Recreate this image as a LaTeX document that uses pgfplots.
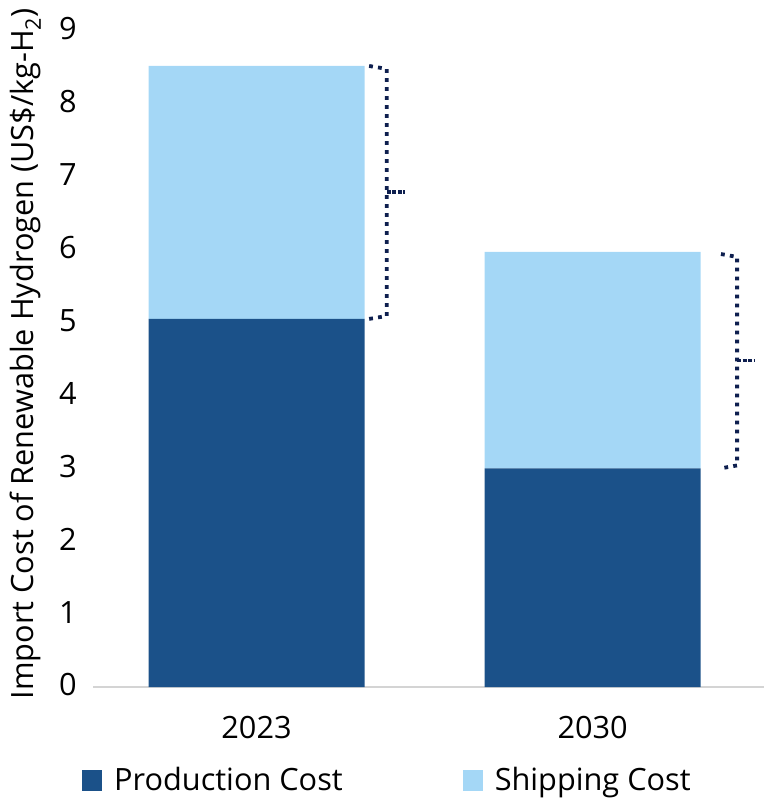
\documentclass[border=0pt]{standalone}
\usepackage{fontspec}
\setmainfont{Open Sans}
\usepackage{pgfplots}
\pgfplotsset{compat=1.18}
\definecolor{prodblue}{HTML}{1B5189}
\definecolor{shipblue}{HTML}{A4D7F6}
\definecolor{navy}{HTML}{0E1F4F}
\definecolor{basegray}{HTML}{D4D4D4}
\begin{document}
\fontsize{30.7}{37}\selectfont
\begin{tikzpicture}
\begin{axis}[
    at={(0pt,0pt)}, anchor=south west,
    scale only axis,
    width=671pt, height=656pt,
    ybar stacked,
    bar width=216pt,
    xmin=-0.4866, xmax=1.51,
    ymin=0, ymax=9,
    xtick={0,1}, xticklabels={2023,2030},
    ytick={0,1,...,9},
    axis lines*=left,
    x axis line style={draw=basegray, line width=1.5pt, -},
    y axis line style={draw=none, -},
    tick style={draw=none},
    major tick length=0pt,
    /pgf/number format/assume math mode=true,
    yticklabel style={xshift=-6pt, yshift=2pt},
    xticklabel style={yshift=-19pt},
    ylabel={Import Cost of Renewable Hydrogen (US\$/kg-H\textsubscript{2})},
    ylabel style={at={(axis description cs:-0.1,0.508)}, anchor=center},
    legend style={at={(axis description cs:-0.0164,-0.1433)}, anchor=west,
        draw=none, fill=none, inner sep=0pt, legend columns=2,
        /tikz/every odd column/.append style={column sep=10pt},
        /tikz/every even column/.append style={column sep=118pt}},
    legend image code/.code={\fill[#1] (0pt,-10pt) rectangle (20pt,11pt);},
]
\addplot[fill=prodblue, draw=none] coordinates {(0,5.05) (1,3.0)};
\addplot[fill=shipblue, draw=none] coordinates {(0,3.47) (1,2.97)};
\legend{Production Cost, Shipping Cost}
\end{axis}
\begin{axis}[
    at={(0pt,0pt)}, anchor=south west,
    scale only axis,
    width=671pt, height=656pt,
    xmin=-0.4866, xmax=1.51,
    ymin=0, ymax=9,
    hide axis,
]
\addplot[navy, line width=3.8pt, dash pattern=on 3.8pt off 5.2pt, line join=round] coordinates {
(0.335,8.52) (0.3875,8.48) (0.3875,5.09) (0.335,5.05)};
\addplot[navy, line width=3.8pt, dash pattern=on 4pt off 1.5pt] coordinates {(0.3875,6.79) (0.442,6.79)};
\addplot[navy, line width=3.8pt, dash pattern=on 3.8pt off 5.2pt, line join=round] coordinates {
(1.382,5.94) (1.430,5.90) (1.430,3.04) (1.382,3.0)};
\addplot[navy, line width=3.8pt, dash pattern=on 4pt off 1.5pt] coordinates {(1.430,4.48) (1.484,4.48)};
\end{axis}
\pgfresetboundingbox
\path[use as bounding box] (-93pt,-112pt) rectangle (673pt,687pt);
\end{tikzpicture}
\end{document}
